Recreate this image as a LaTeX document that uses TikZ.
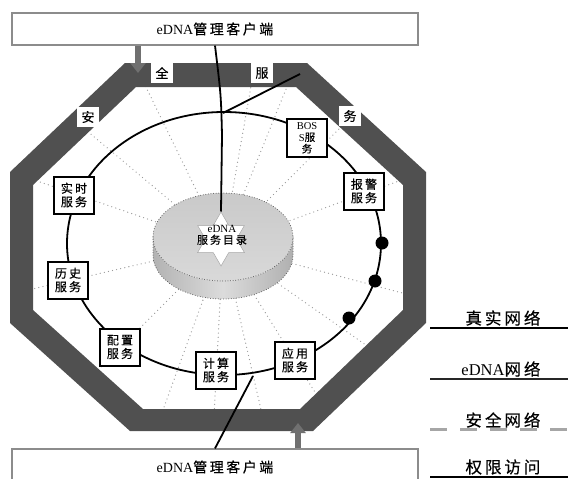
\documentclass[tikz,border=0pt]{standalone}
\usepackage{fontspec}
\setmainfont{Liberation Serif}
\newfontfamily\cjk[LetterSpace=18, FakeBold=0.3]{Noto Sans CJK SC}
\newcommand\zh[1]{{\cjk #1}}
\usetikzlibrary{arrows.meta,shapes.geometric}
\definecolor{bandgray}{HTML}{505050}
\definecolor{arrowgray}{HTML}{707070}
\definecolor{framegray}{HTML}{8C8C8C}
\definecolor{dotgray}{HTML}{9A9A9A}
\definecolor{rimgray}{HTML}{555555}

\tikzset{
  client/.style={draw=framegray, line width=1.2pt, fill=white, minimum width=406pt,
    inner sep=0pt, font=\fontsize{14}{16}\selectfont},
  svc/.style={draw=black, line width=2pt, fill=white, inner sep=1.5pt,
    minimum width=40pt, minimum height=37pt, align=center,
    font=\cjk\fontsize{12}{13.5}\selectfont},
  bandlabel/.style={fill=white, inner sep=0pt, minimum width=22pt, minimum height=20pt,
    font=\cjk\fontsize{13}{13}\selectfont},
  spoke/.style={dotgray, line width=1.3pt, line cap=round, dash pattern=on 0pt off 4.2pt},
  rim/.style={rimgray, line width=1pt, line cap=round, dash pattern=on 0pt off 2.6pt},
  wire/.style={black, line width=1.8pt},
  ring/.style={black, line width=1.8pt},
  bigarrow/.style={arrowgray, line width=6pt, -{Triangle[width=15pt, length=10pt]}},
  bead/.style={circle, fill=black, inner sep=0pt, minimum size=13pt},
  legtext/.style={inner sep=0pt, font=\fontsize{16.5}{16.5}\selectfont},
  realnet/.style={black, line width=2.6pt},
  dnanet/.style={black!85, line width=1.8pt},
  safenet/.style={gray!70, line width=3pt, dash pattern=on 17pt off 13pt},
  accessnet/.style={black, line width=2pt}
}

\begin{document}
\begin{tikzpicture}[x=1pt, y=-1pt]
\useasboundingbox (0,0) rectangle (568,479);

% radial dotted spokes, kept inside the inner octagon
\coordinate (hub) at (223,245);
\begin{scope}
  \clip (136,87) -- (296,87) -- (403,185) -- (403,310) -- (300,409)
        -- (143,409) -- (33,310) -- (33,185) -- cycle;
  \foreach \a in {20,45,68,80,116,140,161,193,225,250,267,283,302,325,345}
    \draw[spoke] (hub) -- ++(-\a:330);
\end{scope}

% security band (octagonal frame)
\fill[bandgray, even odd rule]
  (125,63) -- (307,63) -- (426,172) -- (426,323) -- (313,431)
  -- (130,431) -- (10,323) -- (10,172) -- cycle
  (136,87) -- (296,87) -- (403,185) -- (403,310) -- (300,409)
  -- (143,409) -- (33,310) -- (33,185) -- cycle;

% service ring
\draw[ring] (224,243.5) ellipse [x radius=157, y radius=131.5];

% directory cylinder
\shade[left color=gray!60, right color=gray!62, middle color=gray!28]
  (153,237) -- (153,255) arc[start angle=180, end angle=0, x radius=70, y radius=44]
  -- (293,237) arc[start angle=0, end angle=180, x radius=70, y radius=44] -- cycle;
\shade[top color=gray!42, bottom color=gray!30]
  (223,237) ellipse [x radius=70, y radius=44];
\draw[rim] (223,237) ellipse [x radius=70, y radius=44];
\draw[rim] (153,237) -- (153,255) arc[start angle=180, end angle=0, x radius=70, y radius=44]
  -- (293,237);

% directory star
\node[draw=gray!70, line width=0.5pt, fill=white, star, star points=6,
      star point ratio=1.732, minimum size=54pt, inner sep=0pt] (star) at (221,239) {};
\node[align=center, inner sep=0pt, font=\fontsize{11}{11.5}\selectfont]
  (dirtext) at (222,235) {eDNA\\\zh{服务目录}};

% management clients
\node[client, minimum height=32pt] (topbox) at (215,29) {eDNA\zh{管理客户端}};
\node[client, minimum height=36pt] (botbox) at (215,467) {eDNA\zh{管理客户端}};

% access arrows
\coordinate (inA) at (138,73);
\coordinate (inB) at (298,423);
\draw[bigarrow] (topbox.south -| inA) -- (inA);
\draw[bigarrow] (botbox.north -| inB) -- (inB);

% management links
\coordinate (ringtop) at (223,113);
\coordinate (bandend) at (300,74);
\coordinate (ringlow) at (253,376);
\draw[wire] (topbox.south) .. controls (221,95) .. (222,135) -- (star.north);
\draw[wire] (ringtop) -- (bandend);
\draw[wire] (botbox.north) -- (ringlow);

% band lettering
\node[bandlabel] (lq) at (162,73) {全};
\node[bandlabel] (lf) at (262,73) {服};
\node[bandlabel] (la) at (88,117) {安};
\node[bandlabel] (lw) at (350,116) {务};

% services on the ring
\node[svc, minimum height=38pt, font=\cjk\fontsize{10.5}{11.6}\selectfont] (boss) at (307,138)
  {{\rmfamily BOS}\\{\rmfamily S}服\\务};
\node[svc] (alarm) at (364,191) {报警\\服务};
\node[svc] (rt)    at (74,195)  {实时\\服务};
\node[svc] (hist)  at (68,280)  {历史\\服务};
\node[svc] (cfg)   at (120,347) {配置\\服务};
\node[svc] (calc)  at (216,370) {计算\\服务};
\node[svc] (app)   at (295,360) {应用\\服务};

% nodes on the ring
\node[bead] (b1) at (382,243) {};
\node[bead] (b2) at (375,281) {};
\node[bead] (b3) at (349,318) {};

% legend
\node[legtext] (leg1) at (503,318) {\zh{真实网络}};
\node[legtext] (leg2) at (501,369) {eDNA\zh{网络}};
\node[legtext] (leg3) at (503,420) {\zh{安全网络}};
\node[legtext] (leg4) at (503,467) {\zh{权限访问}};
\coordinate (k1a) at (430,328); \coordinate (k1b) at (568,328);
\coordinate (k2a) at (430,379); \coordinate (k2b) at (568,379);
\coordinate (k3a) at (430,429); \coordinate (k3b) at (568,429);
\coordinate (k4a) at (430,477); \coordinate (k4b) at (568,477);
\draw[realnet] (k1a) -- (k1b);
\draw[dnanet] (k2a) -- (k2b);
\draw[safenet] (k3a) -- (k3b);
\draw[accessnet] (k4a) -- (k4b);
\end{tikzpicture}
\end{document}
